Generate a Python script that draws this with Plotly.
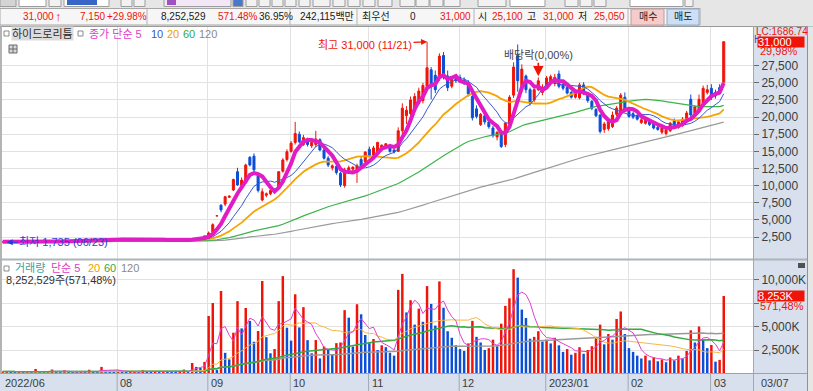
import pandas as pd
import plotly.graph_objects as go

W, H = 813, 391
def px(x): return x / W
def py(y): return 1 - y / H

FONT = "Liberation Sans, Noto Sans CJK KR, sans-serif"
RED = "#f01408"
BLUE = "#0c4fd6"
GRID = "#e2e2e2"
PANEL = "#d7e0ec"

# ---------------- data ----------------
holidays = ["2022-08-15", "2022-09-09", "2022-09-12", "2022-10-03", "2022-10-10",
            "2022-12-30", "2023-01-23", "2023-01-24", "2023-03-01"]
dates = [d for d in pd.bdate_range("2022-06-22", "2023-03-07")
         if d.strftime("%Y-%m-%d") not in holidays]

# closes before the visible window (for the long moving averages)
prior_closes = [
    1960, 1955, 1940, 1950, 1965, 1970, 1945, 1930, 1925, 1940,
    1935, 1920, 1910, 1925, 1930, 1915, 1900, 1895, 1905, 1910,
    1900, 1890, 1880, 1895, 1900, 1885, 1870, 1880, 1890, 1875,
    1865, 1870, 1880, 1870, 1860, 1855, 1865, 1870, 1860, 1850,
    1845, 1855, 1860, 1850, 1840, 1835, 1845, 1850, 1840, 1830,
    1835, 1845, 1840, 1830, 1825, 1830, 1840, 1835, 1825, 1820,
    1830, 1835, 1825, 1815, 1820, 1830, 1825, 1815, 1810, 1820,
    1825, 1815, 1805, 1810, 1820, 1815, 1805, 1800, 1810, 1815,
    1805, 1795, 1800, 1810, 1805, 1795, 1790, 1800, 1805, 1795,
    1785, 1790, 1800, 1795, 1785, 1780, 1790, 1795, 1785, 1780,
    1790, 1800, 1795, 1785, 1790, 1800, 1805, 1795, 1790, 1800,
    1810, 1800, 1795, 1805, 1810, 1800, 1795, 1790, 1805,
]

opens = [
    1790, 1795, 1760, 1790, 1820, 1810, 1800,
    1790, 1800, 1810, 1830, 1820, 1850, 1840, 1860, 1850, 1870, 1880, 1900, 1890, 1950, 1920, 1950, 1980, 2000, 2050, 2100, 2150,
    2120, 2150, 2180, 2140, 2200, 2170, 2160, 2150, 2180, 2130, 2100, 2050, 2000, 2020, 1990, 2010, 2050, 2080, 2150, 2250, 2300, 2450,
    2650, 3250, 5590, 7150, 7300, 8300, 9360, 12030, 10000, 10400, 14130, 14300, 11500, 7900, 8600, 8800, 9400, 9650, 12100, 13800,
    15000, 16300, 17500, 16000, 16800, 15800, 16000, 16700, 15200, 14000, 12600, 12800, 11800, 10000, 12200, 12400, 12100, 13800, 13500,
    15300, 14400, 14900, 15300, 15600, 15900, 15200, 15000, 18000, 20200, 20500, 21000, 22000, 22400, 24500, 26900, 26100, 25700, 29000, 26000, 24500, 25600,
    25800, 25400, 25000, 23000, 21200, 18900, 20200, 19300, 18400, 17100, 17600, 16000, 19000, 23200, 29000, 24000, 26000, 24000, 22500, 24000, 23600,
    24600, 25000, 24900, 26300, 24800, 24300, 23600, 22900, 22800, 24700, 23300, 22300, 21100, 20300, 18200, 18300, 18600, 20400, 20700, 22900,
    21000, 20500, 20200, 19200, 19100, 19400, 19000, 18500, 17800, 17600, 18000, 19500, 18500, 18800, 19300, 22600, 20500, 21000, 22000, 23600,
    24200, 23600, 24300, 25100,
]
highs = [
    1830, 1800, 1810, 1840, 1830, 1820, 1810,
    1820, 1830, 1850, 1850, 1870, 1870, 1880, 1880, 1890, 1900, 1920, 1920, 1980, 1970, 1970, 2000, 2030, 2080, 2140, 2200, 2180,
    2200, 2210, 2190, 2230, 2220, 2200, 2190, 2210, 2200, 2150, 2120, 2080, 2050, 2040, 2030, 2070, 2100, 2180, 2300, 2350, 2450, 2700,
    3300, 4500, 5590, 7270, 8500, 8600, 11000, 12600, 11200, 13200, 14300, 14700, 11800, 9600, 9000, 9400, 9600, 12100, 14000, 15300,
    16500, 19300, 17900, 17400, 17000, 16600, 18000, 16900, 15400, 14300, 13100, 13000, 12000, 12600, 12900, 12800, 13200, 14200, 15000,
    15700, 15800, 16400, 16000, 16200, 16100, 15400, 18500, 22000, 21600, 23000, 23500, 24300, 25000, 31000, 27300, 26800, 29300, 29500, 26800, 25800, 26000,
    26200, 25800, 25400, 23200, 21700, 20600, 20800, 19700, 18700, 17900, 17800, 19300, 23200, 28000, 30600, 27700, 26200, 24300, 24200, 25800, 24800,
    26000, 26200, 26300, 26800, 25000, 24600, 23800, 23900, 25000, 25100, 23600, 22500, 21300, 20400, 19300, 19800, 20800, 21600, 23500, 23600,
    21300, 20800, 20400, 19900, 19800, 19500, 19200, 18700, 18600, 18300, 19300, 19800, 19600, 20000, 20900, 23300, 21700, 23300, 24600, 24700,
    24800, 24000, 24800, 31000,
]
lows = [
    1770, 1735, 1750, 1780, 1790, 1780, 1770,
    1770, 1790, 1800, 1800, 1810, 1820, 1830, 1830, 1840, 1860, 1870, 1870, 1880, 1900, 1910, 1940, 1970, 1990, 2040, 2090, 2100,
    2100, 2130, 2120, 2130, 2160, 2140, 2130, 2140, 2120, 2080, 2030, 1980, 1980, 1970, 1980, 2000, 2040, 2070, 2140, 2230, 2280, 2420,
    2600, 3200, 5590, 6100, 7000, 8200, 9200, 10000, 9700, 10300, 12800, 12100, 9000, 7700, 8300, 8600, 8900, 9500, 11900, 13500,
    14800, 16000, 16200, 15800, 15700, 15500, 15600, 15000, 13800, 12700, 12200, 11600, 9800, 9700, 11800, 12100, 10400, 12400, 12800,
    14100, 14200, 14700, 15000, 15300, 14800, 14700, 14900, 17500, 19000, 20000, 20800, 21800, 22000, 24300, 22600, 23500, 25300, 25500, 23800, 24200, 25000,
    25000, 24700, 23000, 19500, 19800, 18700, 18900, 18300, 17000, 16600, 15500, 15600, 18800, 22800, 23700, 23600, 23500, 21700, 22200, 23800, 23200,
    24300, 24700, 24500, 24200, 23900, 23300, 22700, 22700, 22600, 23200, 22100, 21000, 20000, 17600, 17700, 18000, 18400, 20100, 20500, 20800,
    19900, 19700, 19500, 19000, 18900, 18700, 18200, 18000, 17500, 17300, 17800, 18400, 18300, 18600, 19100, 20000, 20200, 20800, 21800, 23300,
    22500, 22700, 23300, 25050,
]
closes = [
    1800, 1760, 1790, 1820, 1810, 1800, 1790,
    1800, 1810, 1830, 1820, 1850, 1840, 1860, 1850, 1870, 1880, 1900, 1890, 1950, 1920, 1950, 1980, 2000, 2050, 2100, 2150, 2120,
    2150, 2180, 2140, 2200, 2170, 2160, 2150, 2180, 2130, 2100, 2050, 2000, 2020, 1990, 2010, 2050, 2080, 2150, 2250, 2300, 2400, 2650,
    3080, 4300, 5590, 6450, 8380, 8450, 10900, 10090, 10800, 13000, 13010, 12300, 9300, 9110, 8800, 9300, 9150, 12030, 13740, 14950,
    16200, 17600, 16400, 17000, 16000, 16300, 16800, 15200, 14000, 13000, 12900, 11900, 10100, 12300, 12600, 12700, 12900, 12700, 14900,
    14300, 15500, 16300, 15900, 16100, 15000, 14900, 18000, 21300, 21000, 22500, 23000, 23800, 24600, 27200, 24500, 24000, 28900, 26000, 24300, 25500, 25300,
    25200, 25000, 23400, 19900, 20100, 20400, 19300, 18600, 17300, 17800, 15700, 19100, 22900, 27300, 25300, 27000, 24000, 22000, 24000, 25300, 24400,
    25700, 25900, 25800, 24500, 24200, 23500, 22900, 23500, 24700, 23500, 22400, 21300, 20200, 17900, 19000, 19300, 20300, 21300, 23200, 21100,
    20100, 20000, 19700, 19600, 19500, 18900, 18400, 18200, 18400, 18100, 19100, 18700, 19300, 19700, 20600, 20300, 21500, 22600, 24200, 24000,
    22900, 23100, 23850, 31000,
]
volumes_k = [
    210, 260, 180, 150, 160, 140, 150,
    130, 480, 160, 140, 150, 420, 140, 130, 350, 150, 140, 130, 160, 150, 400, 170, 160, 700, 330, 300, 280,
    300, 150, 140, 160, 170, 150, 380, 140, 130, 150, 140, 160, 150, 140, 130, 150, 420, 180, 1120, 700, 600, 1230,
    6120, 7500, 370, 8780, 2200, 1500, 4340, 7700, 4800, 6970, 5590, 3380, 4520, 9840, 3870, 2150, 2600, 7700, 10360, 4870,
    3500, 8430, 4900, 7060, 3550, 2150, 3560, 1610, 2870, 2600, 1970, 3230, 3300, 6740, 5940, 2870, 7370, 6300, 4100,
    3230, 3670, 2500, 3000, 2800, 2200, 1900, 8900, 10600, 6500, 7800, 5200, 6900, 5500, 9300, 7400, 5100, 9800, 7000, 4500, 3800, 3000,
    2600, 2400, 3200, 5600, 3900, 3300, 2500, 2700, 3600, 2900, 5300, 7200, 8000, 11100, 10200, 6800, 5900, 3700, 3900, 4500, 3400,
    3600, 3200, 3800, 3000, 2300, 2600, 2000, 2200, 2800, 2100, 2500, 2900, 3900, 5200, 3100, 4200, 3600, 5800, 6600, 4200,
    2700, 2300, 1900, 1600, 1900, 1400, 1700, 1300, 1500, 1200, 1700, 1400, 1900, 1600, 2400, 4600, 3300, 5000, 3600, 2700,
    3030, 1260, 1444.063, 8252.529,
]

label_months = ["2022-06", "2022-08", "2022-09", "2022-10", "2022-11", "2022-12", "2023-01", "2023-02", "2023-03"]
label_texts = ["2022/06", "08", "09", "10", "11", "12", "2023/01", "02", "03"]
price_ticks = [2500, 5000, 7500, 10000, 12500, 15000, 17500, 20000, 22500, 25000, 27500]
vol_ticks = [2500000, 5000000, 7500000, 10000000]
vol_tick_text = ["2,500K", "5,000K", "", "10,000K"]

# ---------------- derived ----------------
n = len(closes)
xi = list(range(n))
volumes = [int(round(v * 1000)) for v in volumes_k]
month_idx = [next(i for i, d in enumerate(dates) if d.strftime("%Y-%m") == m) for m in label_months]
grid_vals = [m - 0.2 for m in month_idx[1:]]

cs = pd.Series(prior_closes + closes, dtype=float)
def pma(w):
    return cs.rolling(w, min_periods=1).mean().iloc[len(prior_closes):].tolist()
vs = pd.Series(volumes, dtype=float)
def vma(w):
    return vs.rolling(w, min_periods=1).mean().tolist()

vol_colors = [RED] + [RED if volumes[i] > volumes[i - 1] else BLUE for i in range(1, n)]

prev_close = closes[-2]
chg = closes[-1] - prev_close
pct = chg / prev_close * 100
vol_ratio = volumes[-1] / volumes[-2] * 100
imax = max(range(n), key=lambda i: (highs[i], -i))
imin = min(range(n), key=lambda i: (lows[i], i))
i_exdiv = next(i for i, d in enumerate(dates) if d.strftime("%Y-%m-%d") == "2022-12-28")

fig = go.Figure()
fig.add_trace(go.Candlestick(
    x=xi, open=opens, high=highs, low=lows, close=closes, xaxis="x", yaxis="y",
    increasing=dict(line=dict(color=RED, width=1), fillcolor=RED),
    decreasing=dict(line=dict(color=BLUE, width=1), fillcolor=BLUE),
    whiskerwidth=0, hoverinfo="skip"))
for w, col, lw in [(120, "#9a9a9a", 1.2), (60, "#3cb44a", 1.2), (20, "#f5a400", 1.8), (10, "#3a58d0", 1), (5, "#e21cc4", 4)]:
    fig.add_trace(go.Scatter(x=xi, y=pma(w), mode="lines", line=dict(color=col, width=lw),
                             xaxis="x", yaxis="y", hoverinfo="skip"))

fig.add_trace(go.Bar(x=xi, y=volumes, marker=dict(color=vol_colors, line=dict(width=0)), width=0.6,
                     xaxis="x2", yaxis="y2", hoverinfo="skip"))
for w, col, lw in [(120, "#9a9a9a", 1.5), (60, "#35aa40", 1.5), (20, "#f6b840", 1), (5, "#e040d0", 1)]:
    fig.add_trace(go.Scatter(x=xi, y=vma(w), mode="lines", line=dict(color=col, width=lw),
                             xaxis="x2", yaxis="y2", hoverinfo="skip"))

# ---------------- decorations ----------------
shapes = []
def rect(x0, y0, x1, y1, fill, line=None, lw=1, layer="above"):
    shapes.append(dict(type="rect", xref="paper", yref="paper", x0=px(x0), x1=px(x1), y0=py(y1), y1=py(y0),
                       fillcolor=fill, line=dict(color=line if line else fill, width=lw if line else 0), layer=layer))
def seg(x0, y0, x1, y1, color, lw=1, layer="above"):
    shapes.append(dict(type="line", xref="paper", yref="paper", x0=px(x0), x1=px(x1), y0=py(y0), y1=py(y1),
                       line=dict(color=color, width=lw), layer=layer))

# header
rect(0, 0, 813, 26.5, "#e6e6e6")
row1 = [(0, 16, "#d4d4d4"), (19, 46, "#ffffff"), (49, 61, "#f2f2f2"), (64, 109, "#ffffff"), (121, 132, "#f2f2f2"),
        (134, 145, "#f2f2f2"), (164, 231, "#f3e6f6"), (233, 243, "#4a78c8"), (246, 257, "#f2f2f2"), (259, 270, "#f2f2f2"),
        (272, 283, "#f2f2f2"), (285, 296, "#f2f2f2"), (299, 310, "#f2f2f2"), (313, 330, "#f2f2f2"), (333, 345, "#f2f2f2"),
        (348, 360, "#f2f2f2"), (363, 375, "#f2f2f2"), (378, 392, "#f2f2f2"), (400, 415, "#f2f2f2"), (416, 429, "#f2f2f2"),
        (430, 443, "#f2f2f2"), (444, 460, "#f2f2f2"), (478, 506, "#f2f2f2"), (510, 545, "#ffffff"), (565, 578, "#f2f2f2"),
        (580, 592, "#f2f2f2"), (594, 606, "#f2f2f2"), (630, 683, "#ffffff"), (685, 693, "#f2f2f2")]
for a, b, f in row1:
    rect(a, -2, b, 6.5, f, "#9c9c9c")
rect(67, 0, 97, 5, "#3a66c8")
rect(167, 0, 176, 5, "#a050c0")
rect(0, 8.5, 700, 25, "#f6f6f6", "#a6a6a6")
for xs in [147, 290, 357, 474, 628]:
    seg(xs, 9, xs, 25, "#b4b4b4")
rect(631, 9, 664, 25, "#f5cccc", "#c49a9a")
rect(667, 9, 699, 25, "#cddff4", "#93aacb")
seg(0, 26.5, 813, 26.5, "#9a9a9a")

# frame / panels
rect(0, 26.5, 2, 373, "#b4b4b4")
seg(0, 259.5, 807, 259.5, "#aeb4ba", 2)
seg(753.5, 26.5, 753.5, 391, "#a2a8b0")
seg(807.5, 26.5, 807.5, 391, "#8c939b")
rect(808, 26.5, 813, 391, "#e6e6e6")
seg(0, 373.5, 807, 373.5, "#9aa4b0")
for m in month_idx[1:]:
    shapes.append(dict(type="line", xref="x", yref="paper", x0=m - 0.2, x1=m - 0.2, y0=py(391), y1=py(373.5),
                       line=dict(color="#a0aab6", width=1), layer="above"))
# legend icons
rect(4, 31, 9, 36, "#ffffff", "#8a8a8a")
rect(78, 31, 83, 36, "#ffffff", "#8a8a8a")
rect(9, 45, 17, 53, "#d8d8d8", "#6a6a6a")
seg(13, 45, 13, 53, "#6a6a6a")
seg(9, 49, 17, 49, "#6a6a6a")
rect(4, 266, 9, 271, "#ffffff", "#8a8a8a")
rect(798, 263, 805, 268, "#505050")

annotations = []
def txt(s, x, y, color="#202020", size=11, xanchor="left", **kw):
    d = dict(text=s, x=px(x), y=py(y), xref="paper", yref="paper", xanchor=xanchor, yanchor="middle",
             showarrow=False, font=dict(family=FONT, size=size, color=color), borderpad=0)
    d.update(kw)
    annotations.append(d)

# header row texts
HS = 10
txt(f"{closes[-1]:,}", 22, 16.7, RED, HS)
txt("<b>↑</b>", 54, 16.7, RED, 13)
txt(f"{chg:,}", 79, 16.7, RED, HS)
txt(f"+{pct:.2f}%", 106, 16.7, RED, HS)
txt(f"{volumes[-1]:,}", 160, 16.7, "#202020", HS)
txt(f"{vol_ratio:.2f}%", 217, 16.7, RED, HS)
txt("36.95%", 258, 16.7, "#202020", HS)
txt("242,115백만", 299, 16.7, "#202020", HS)
txt("최우선", 361, 16.7, "#202020", HS)
txt("0", 409, 16.7, "#202020", HS)
txt(f"{closes[-1]:,}", 439, 16.7, RED, HS)
txt("시", 477, 16.7, "#202020", HS)
txt(f"{opens[-1]:,}", 491, 16.7, RED, HS)
txt("고", 526, 16.7, "#202020", HS)
txt(f"{highs[-1]:,}", 542, 16.7, RED, HS)
txt("저", 577, 16.7, "#202020", HS)
txt(f"{lows[-1]:,}", 593, 16.7, RED, HS)
txt("매수", 647.5, 16.7, "#202020", HS, xanchor="center")
txt("매도", 683, 16.7, "#202020", HS, xanchor="center")

# price legend
txt("하이드로리튬", 11, 34, "#303030", 11, bgcolor="#dcdcdc")
txt("종가 단순 5", 88, 34, "#e03cc8", 11)
txt("10", 150, 34, "#3a58d0", 11)
txt("20", 166, 34, "#f0a000", 11)
txt("60", 182, 34, "#35a845", 11)
txt("120", 198, 34, "#8a8a8a", 11)
# volume legend
txt("거래량", 14, 268, "#3b9fa8", 11)
txt("단순 5", 50, 268, "#e03cc8", 11)
txt("20", 87, 268, "#f0a000", 11)
txt("60", 103, 268, "#35a845", 11)
txt("120", 120, 268, "#8a8a8a", 11)
txt(f"{volumes[-1]:,}주({vol_ratio:.2f}%)".replace(".", ","), 5, 279.5, "#303030", 11)

# right axis extras
txt("LC:1686.74", 755, 32, RED, 10)
txt("H", 753, 39, "#2a50d0", 10)
annotations.append(dict(text=f"{closes[-1]:,}", x=px(757), y=closes[-1], xref="paper", yref="y", xanchor="left",
                        yanchor="middle", showarrow=False, bgcolor=RED, width=46, height=10, align="left",
                        borderpad=0, font=dict(family=FONT, size=11, color="white")))
txt(f"{pct:.2f}%".replace(".", ","), 759, 51, RED, 11)
annotations.append(dict(text=f"{volumes[-1] / 1000:,.0f}K", x=px(757), y=volumes[-1], xref="paper", yref="y2",
                        xanchor="left", yanchor="middle", showarrow=False, bgcolor=RED, width=46, height=10,
                        align="left", borderpad=0, font=dict(family=FONT, size=11, color="white")))
txt(f"{vol_ratio:.2f}%".replace(".", ","), 759, 305.5, RED, 11)

# x labels
for m, s in zip(month_idx, label_texts):
    annotations.append(dict(text=s, x=max(m - 0.2, -0.15), y=py(382.5), xref="x", yref="paper", xanchor="left",
                            yanchor="middle", showarrow=False, xshift=1,
                            font=dict(family=FONT, size=11, color="#3c3c3c")))
txt(dates[-1].strftime("%m/%d"), 760, 382.5, "#3c3c3c", 11)

# chart annotations
annotations.append(dict(text=f"최고 {highs[imax]:,} ({dates[imax].strftime('%m/%d')})", x=imax, y=highs[imax],
                        xref="x", yref="y", showarrow=True, ax=-62, ay=3, arrowcolor=RED, arrowhead=2,
                        arrowsize=1, arrowwidth=1.2, font=dict(family=FONT, size=11, color=RED)))
annotations.append(dict(text="배당락(0,00%)", x=i_exdiv, y=highs[i_exdiv], xref="x", yref="y", showarrow=True,
                        ax=0, ay=-22, arrowcolor=RED, arrowhead=2, arrowsize=1.3, arrowwidth=1.6, standoff=1,
                        font=dict(family=FONT, size=11, color="#454545")))
annotations.append(dict(text=f"최저 {lows[imin]:,} ({dates[imin].strftime('%m/%d')})", x=imin, y=lows[imin],
                        xref="x", yref="y", showarrow=True, ax=57, ay=0, arrowcolor="#2040e0", arrowhead=2,
                        arrowsize=1, arrowwidth=1.2, font=dict(family=FONT, size=11, color="#2a40d8")))

axis_common = dict(showgrid=True, gridcolor=GRID, gridwidth=1, zeroline=False, fixedrange=True)
fig.update_layout(
    width=W, height=H, margin=dict(l=0, r=0, t=0, b=0),
    paper_bgcolor=PANEL, plot_bgcolor="#ffffff", showlegend=False,
    xaxis=dict(domain=[px(2), px(753)], range=[-0.15, 182.1], anchor="y", tickvals=grid_vals,
               showticklabels=False, ticks="", rangeslider=dict(visible=False), **axis_common),
    yaxis=dict(domain=[py(259), py(27)], range=[-711, 33147], side="right", anchor="x",
               tickvals=price_ticks, ticktext=[f"{v:,}" for v in price_ticks],
               ticks="outside", ticklen=5, tickcolor="#6a6a6a",
               tickfont=dict(family=FONT, size=12, color="#3c3c3c"), **axis_common),
    xaxis2=dict(domain=[px(2), px(753)], anchor="y2", matches="x", tickvals=grid_vals,
                showticklabels=False, ticks="", **axis_common),
    yaxis2=dict(domain=[py(373), py(260)], range=[53000, 12077000], side="right", anchor="x2",
                tickvals=vol_ticks, ticktext=vol_tick_text, ticks="outside", ticklen=5, tickcolor="#6a6a6a",
                tickfont=dict(family=FONT, size=12, color="#3c3c3c"), **axis_common),
    shapes=shapes, annotations=annotations,
)
fig.write_html("out.html", config={"displayModeBar": False},
               post_script="document.body.style.margin='0';document.body.style.overflow='hidden';")
